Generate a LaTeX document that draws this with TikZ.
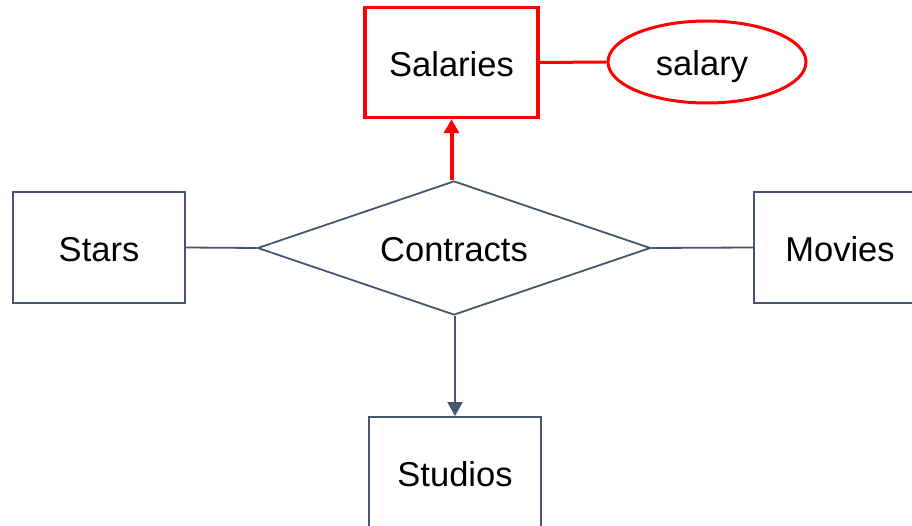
\documentclass[tikz,border=0pt]{standalone}
\usepackage{fontspec}
\setmainfont{Liberation Sans}
\usetikzlibrary{shapes.geometric,arrows.meta}
\definecolor{slate}{RGB}{72,86,109}
\definecolor{erred}{RGB}{255,0,0}
\begin{document}
\begin{tikzpicture}[x=1pt,y=-1pt,
  every node/.style={font=\fontsize{34.5}{40}\selectfont, inner sep=0pt, text height=33pt, text depth=5pt},
  entity/.style={draw=slate, line width=1.8pt, rectangle, minimum width=172pt, minimum height=111pt},
  relation/.style={draw=slate, line width=1.8pt, diamond, aspect=2.93, minimum width=393pt, minimum height=134pt},
  hotentity/.style={draw=erred, line width=3.5pt, rectangle, minimum width=173pt, minimum height=110pt},
  attrib/.style={draw=erred, line width=3pt, ellipse, minimum width=198pt, minimum height=82pt},
  link/.style={draw=slate, line width=1.8pt},
  onelink/.style={draw=slate, line width=1.8pt, -{Triangle[width=15pt,length=14pt]}},
  hotlink/.style={draw=erred, line width=3pt},
  hotarrow/.style={draw=erred, line width=4pt, -{Triangle[width=15pt,length=14pt]}}]
\useasboundingbox (0,0) rectangle (912,526);
\clip (0,0) rectangle (912,526);

% entities, the relationship and the attribute
\node[relation] (contracts) at (454,248) {Contracts};
\node[entity] (stars) at (99,247.5) {Stars};
\node[entity] (movies) at (840,247.5) {Movies};
\node[entity] (studios) at (455,472.5) {Studios};
\node[hotentity] (salaries) at (451.5,62.5) {Salaries};
\node[attrib] (salary) at (707,62) {\hspace*{-10pt}salary};

% connectors
\draw[link] (stars.east) -- (contracts.west);
\draw[link] (contracts.east) -- (movies.west);
\draw[onelink] (contracts.south -| studios.north) -- (studios.north);
\draw[hotarrow] (salaries.south |- contracts.north) -- (salaries.south);
\draw[hotlink] (salaries.east) -- (salary.west);
\end{tikzpicture}
\end{document}
